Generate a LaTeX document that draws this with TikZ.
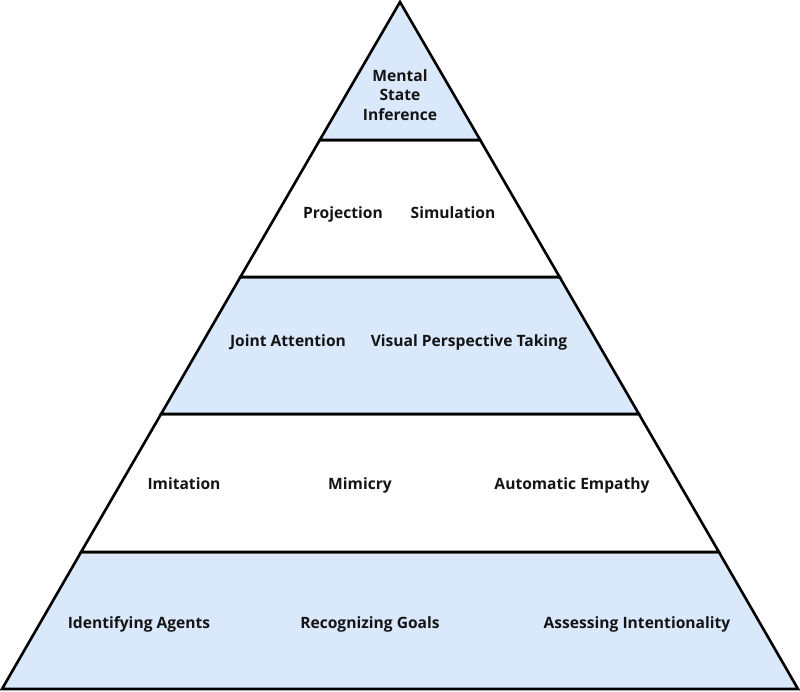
\documentclass[tikz,border=0pt]{standalone}
\usepackage{fontspec}
\setmainfont{Open Sans}
\begin{document}
\begin{tikzpicture}[x=1pt,y=-1pt,
  layer/.style={draw=black,line width=2.6pt,line join=miter},
  blue/.style={layer,fill=lblue},
  white/.style={layer,fill=white},
  lbl/.style={font=\fontsize{15.6}{19.5}\selectfont\bfseries,text=black!92,align=center,inner sep=0pt,anchor=base}]
\definecolor{lblue}{HTML}{DAE8FC}
\useasboundingbox (0,0) rectangle (800,692);
\coordinate (A) at (400,2);
\coordinate (L1) at (319.8,140); \coordinate (R1) at (480.2,140);
\coordinate (L2) at (240.4,277); \coordinate (R2) at (559.6,277);
\coordinate (L3) at (161.1,414); \coordinate (R3) at (638.9,414);
\coordinate (L4) at (81.1,552);  \coordinate (R4) at (718.9,552);
\coordinate (L5) at (2,689);     \coordinate (R5) at (798,689);
\draw[blue] (L5) -- (R5) -- (R4) -- (L4) -- cycle;
\draw[white] (L4) -- (R4) -- (R3) -- (L3) -- cycle;
\draw[blue] (L3) -- (R3) -- (R2) -- (L2) -- cycle;
\draw[white] (L2) -- (R2) -- (R1) -- (L1) -- cycle;
\draw[blue] (L1) -- (R1) -- (A) -- cycle;
\node[lbl,anchor=center] (msi) at (400,95) {Mental\\State\\Inference};
\node[lbl] (proj) at (343,219) {Projection};
\node[lbl] (sim) at (453,219) {Simulation};
\node[lbl] (ja) at (288,347) {Joint Attention};
\node[lbl] (vpt) at (469,347) {Visual Perspective Taking};
\node[lbl] (imi) at (184,489) {Imitation};
\node[lbl] (mim) at (360,489) {Mimicry};
\node[lbl] (ae) at (572,489) {Automatic Empathy};
\node[lbl] (ia) at (139,628) {Identifying Agents};
\node[lbl] (rg) at (370,628) {Recognizing Goals};
\node[lbl] (ai) at (637,628) {Assessing Intentionality};
\end{tikzpicture}
\end{document}
